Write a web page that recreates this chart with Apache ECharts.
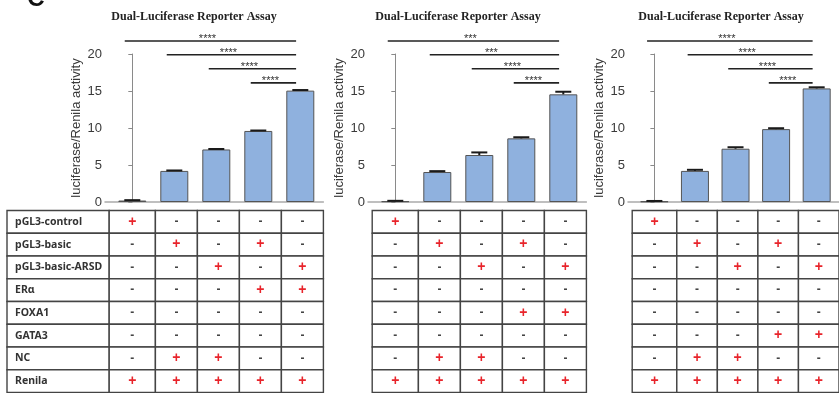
<!DOCTYPE html>
<html>
<head>
<meta charset="utf-8">
<script src="https://cdn.jsdelivr.net/npm/echarts@6/dist/echarts.min.js"></script>
<style>
html,body{margin:0;padding:0;background:#fff;}
#chart{width:839px;height:393px;}
</style>
</head>
<body>
<div id="chart"></div>
<script>
// ---------- data ----------
const panelTitle = 'Dual-Luciferase Reporter Assay';
const figLetter = 'C';
const yAxisName = 'luciferase/Renila activity';
const yTicks = [0, 5, 10, 15, 20];
const groups = [0, 1, 2, 3, 4];

const means1 = [0.2, 4.2, 7.1, 9.6, 15.05];
const errs1  = [0.05, 0.06, 0.06, 0.06, 0.08];
const means2 = [0.1, 4.05, 6.35, 8.6, 14.55];
const errs2  = [0.06, 0.12, 0.35, 0.15, 0.35];
const means3 = [0.08, 4.2, 7.2, 9.85, 15.35];
const errs3  = [0.06, 0.15, 0.2, 0.12, 0.15];

// brackets: [from group, to group, height (y units), label]
const sig1 = [[0, 4, 21.75, '****'], [1, 4, 19.9, '****'], [2, 4, 18.0, '****'], [3, 4, 16.1, '****']];
const sig2 = [[0, 4, 21.75, '***'],  [1, 4, 19.9, '***'],  [2, 4, 18.0, '****'], [3, 4, 16.1, '****']];
const sig3 = [[0, 4, 21.75, '****'], [1, 4, 19.9, '****'], [2, 4, 18.0, '****'], [3, 4, 16.1, '****']];

const rowLabels = ['pGL3-control', 'pGL3-basic', 'pGL3-basic-ARSD', 'ERα', 'FOXA1', 'GATA3', 'NC', 'Renila'];
const table1 = ['+----', '-+-+-', '--+-+', '---++', '-----', '-----', '-++--', '+++++'];
const table2 = ['+----', '-+-+-', '--+-+', '-----', '---++', '-----', '-++--', '+++++'];
const table3 = ['+----', '-+-+-', '--+-+', '-----', '-----', '---++', '-++--', '+++++'];

// ---------- layout ----------
const panels = [
  {axisX: 105, means: means1, errs: errs1, sig: sig1, table: table1, labels: true, titleX: 194},
  {axisX: 368, means: means2, errs: errs2, sig: sig2, table: table2, labels: false, titleX: 458},
  {axisX: 628, means: means3, errs: errs3, sig: sig3, table: table3, labels: false, titleX: 721}
];
const UNIT = 42;           // px per group
const XMIN = -0.65, XMAX = 4.55;
const CELL_L = -0.55;
const LABEL_LEFT = 7;
const SANS = 'Liberation Sans, Arial, sans-serif';

const grid = [], xAxis = [], yAxis = [], series = [], graphic = [];

panels.forEach((p, i) => {
  // bar grid
  grid.push({left: p.axisX, top: 54, width: (XMAX - XMIN) * UNIT, height: 148});
  // table grid
  const tMin = p.labels ? XMIN - (p.axisX - LABEL_LEFT) / UNIT : CELL_L;
  const tLeft = p.axisX + (tMin - XMIN) * UNIT;
  grid.push({left: tLeft, top: 210.5, width: (XMAX - tMin) * UNIT, height: 182});

  const bi = i * 2, ti = i * 2 + 1;
  xAxis.push({gridIndex: bi, type: 'value', min: XMIN, max: XMAX,
    axisLine: {show: true, lineStyle: {color: '#aaaaaa', width: 1.5}},
    axisTick: {show: false}, axisLabel: {show: false}, splitLine: {show: false}});
  xAxis.push({gridIndex: bi + 1, type: 'value', min: tMin, max: XMAX, show: false, splitLine: {show: false}});

  yAxis.push({gridIndex: bi, type: 'value', min: yTicks[0], max: yTicks[yTicks.length - 1], interval: 5,
    name: yAxisName, nameLocation: 'middle', nameGap: 22,
    nameTextStyle: {fontFamily: SANS, fontSize: 13, color: '#3a3a3a'},
    axisLine: {show: true, lineStyle: {color: '#8a8a8a', width: 1}},
    axisTick: {show: true, length: 4, lineStyle: {color: '#8a8a8a'}},
    axisLabel: {fontFamily: SANS, fontSize: 13, color: '#3a3a3a', margin: 3},
    splitLine: {show: false}});
  yAxis.push({gridIndex: bi + 1, type: 'value', min: 0, max: rowLabels.length, inverse: true, show: false, splitLine: {show: false}});

  // bars
  series.push({type: 'bar', xAxisIndex: bi, yAxisIndex: bi, barWidth: 28,
    data: groups.map(g => [g, p.means[g]]),
    itemStyle: {color: '#8fb1de', borderColor: '#555555', borderWidth: 1},
    silent: true, animation: false});

  // error bars (upper)
  series.push({type: 'custom', xAxisIndex: bi, yAxisIndex: bi, z: 5,
    data: groups.map(g => [g, p.means[g], p.errs[g]]),
    renderItem: (params, api) => {
      const x = api.value(0), m = api.value(1), e = api.value(2);
      const a = api.coord([x, m]), b = api.coord([x, m + e]);
      return {type: 'group', children: [
        {type: 'line', shape: {x1: a[0], y1: a[1], x2: b[0], y2: b[1]}, style: {stroke: '#1a1a1a', lineWidth: 2}},
        {type: 'line', shape: {x1: b[0] - 8, y1: b[1], x2: b[0] + 8, y2: b[1]}, style: {stroke: '#1a1a1a', lineWidth: 2}}
      ]};
    }, animation: false, silent: true});

  // significance brackets
  series.push({type: 'custom', xAxisIndex: bi, yAxisIndex: bi, clip: false, z: 5,
    data: p.sig,
    renderItem: (params, api) => {
      const from = api.value(0), to = api.value(1), h = api.value(2);
      const lab = p.sig[params.dataIndex][3];
      const a = api.coord([from - 0.18, h]), b = api.coord([to - 0.1, h]);
      return {type: 'group', children: [
        {type: 'line', shape: {x1: a[0], y1: a[1], x2: b[0], y2: b[1]}, style: {stroke: '#222', lineWidth: 1.6}},
        {type: 'text', x: (a[0] + b[0]) / 2 - 3, y: a[1] - 2,
          style: {text: lab, align: 'center', verticalAlign: 'middle', fontSize: 11, fontFamily: SANS, fill: '#333'}}
      ]};
    }, animation: false, silent: true});

  // table cells
  const cells = [];
  p.table.forEach((row, r) => {
    if (p.labels) cells.push([tMin, r, CELL_L, rowLabels[r], 1]);
    row.split('').forEach((s, c) => {
      cells.push([c === 0 ? CELL_L : c - 0.45, r, c + 0.55, s, 0]);
    });
  });
  series.push({type: 'custom', xAxisIndex: ti, yAxisIndex: ti, z: 3,
    data: cells,
    renderItem: (params, api) => {
      const d = cells[params.dataIndex];
      const tl = api.coord([d[0], d[1]]), br = api.coord([d[2], d[1] + 1]);
      const isLabel = d[4] === 1;
      const txt = d[3];
      const children = [
        {type: 'rect', shape: {x: tl[0], y: tl[1], width: br[0] - tl[0], height: br[1] - tl[1]},
          style: {fill: '#fff', stroke: '#444', lineWidth: 1.4}}
      ];
      if (isLabel) {
        children.push({type: 'text', x: tl[0] + 8, y: (tl[1] + br[1]) / 2,
          style: {text: txt, align: 'left', verticalAlign: 'middle', fontSize: 10.5, fontWeight: 'bold',
            fontFamily: 'Noto Sans, sans-serif', fill: '#333'}});
      } else {
        const plus = txt === '+';
        children.push({type: 'text', x: (tl[0] + br[0]) / 2, y: (tl[1] + br[1]) / 2,
          style: {text: txt, align: 'center', verticalAlign: 'middle',
            fontSize: plus ? 14 : 12, fontWeight: 'bold', fontFamily: SANS,
            fill: plus ? '#e8242b' : '#444'}});
      }
      return {type: 'group', children};
    }, animation: false, silent: true});

  // panel title
  graphic.push({type: 'text', x: p.titleX, y: 17,
    style: {text: panelTitle, align: 'center', verticalAlign: 'middle',
      font: 'bold 12px "Liberation Serif", "Times New Roman", serif', fill: '#222'}});
});

graphic.push({type: 'text', x: 36, y: -1,
  style: {text: figLetter, align: 'center', verticalAlign: 'middle',
    font: 'bold 24px "Liberation Sans", Arial, sans-serif', fill: '#111'}});

const chart = echarts.init(document.getElementById('chart'), null, {renderer: 'canvas'});
chart.setOption({animation: false, grid, xAxis, yAxis, series, graphic});
</script>
</body>
</html>
